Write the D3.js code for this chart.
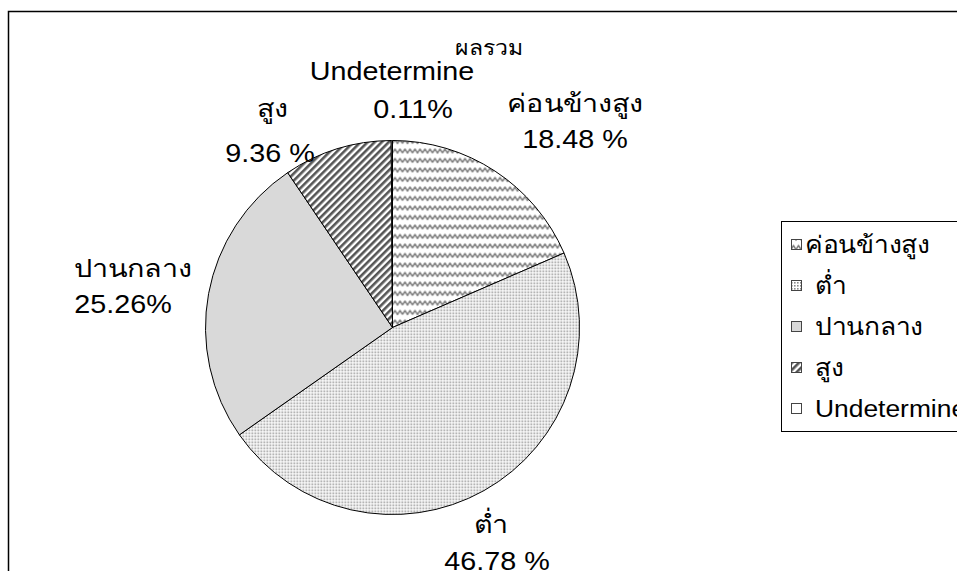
<!doctype html>
<html lang="th">
<head>
<meta charset="UTF-8">
<title>ผลรวม</title>
<script src="https://cdn.jsdelivr.net/npm/d3@7"></script>
<style>
  body { margin: 0; background: #fff; }
  svg text { font-family: "Liberation Sans", Arial, "Noto Sans", sans-serif; fill: #000; }
</style>
</head>
<body>
<div class="canvas"></div>
<script>
  // data
  const categories = ['ค่อนข้างสูง', 'ต่ำ', 'ปานกลาง', 'สูง', 'Undetermine'];
  const values = [18.48, 46.78, 25.26, 9.36, 0.11];
  const pctLabels = ['18.48 %', '46.78 %', '25.26%', '9.36 %', '0.11%'];
  const title = 'ผลรวม';

  const width = 957, height = 571;
  const svg = d3.select('.canvas').append('svg')
    .attr('width', width)
    .attr('height', height);

  // fill patterns
  const defs = svg.append('defs');
  const wave = defs.append('pattern').attr('id', 'p-wave')
    .attr('patternUnits', 'userSpaceOnUse').attr('width', 10).attr('height', 9.5);
  wave.append('rect').attr('width', 10).attr('height', 9.5).attr('fill', '#fff');
  wave.append('path')
    .attr('d', 'M0,6 L2.5,2 L5,6 L7.5,2 L10,6')
    .attr('fill', 'none').attr('stroke', '#7a7a7a').attr('stroke-width', 1.5)
    .attr('stroke-linejoin', 'round');

  const dots = defs.append('pattern').attr('id', 'p-dots')
    .attr('patternUnits', 'userSpaceOnUse').attr('width', 3).attr('height', 3);
  dots.append('rect').attr('width', 3).attr('height', 3).attr('fill', '#fff');
  dots.append('rect').attr('width', 1.6).attr('height', 1.6).attr('fill', '#8c8c8c');

  const stripes = defs.append('pattern').attr('id', 'p-stripes')
    .attr('patternUnits', 'userSpaceOnUse').attr('width', 5).attr('height', 5)
    .attr('patternTransform', 'rotate(45)');
  stripes.append('rect').attr('width', 5).attr('height', 5).attr('fill', '#fff');
  stripes.append('rect').attr('width', 2.6).attr('height', 5).attr('fill', '#555');

  const fills = ['url(#p-wave)', 'url(#p-dots)', '#d9d9d9', 'url(#p-stripes)', '#fff'];

  // outer frame (runs off right and bottom)
  svg.append('rect')
    .attr('x', 8.5).attr('y', 11.5)
    .attr('width', 1000).attr('height', 700)
    .attr('fill', 'none').attr('stroke', '#000').attr('stroke-width', 1.5);

  // pie
  const cx = 392.5, cy = 327.5, r = 187;
  const pie = d3.pie().sort(null).value(d => d)(values);
  const arc = d3.arc().innerRadius(0).outerRadius(r);

  const g = svg.append('g').attr('transform', `translate(${cx},${cy})`);
  g.selectAll('path')
    .data(pie)
    .join('path')
    .attr('d', arc)
    .attr('fill', (d, i) => fills[i])
    .attr('stroke', '#000')
    .attr('stroke-width', 1);

  // labels: name on first line, percentage on second
  // text in the original is a bit wider than normal, so stretch it
  const labelPos = [[575, 112], [491, 533], [133, 277], [272, 117], [392, 80]];
  const pctPos = [[575, 148], [497, 570], [123, 313], [270, 162], [413, 118]];

  svg.selectAll('text.name')
    .data(categories)
    .join('text')
    .attr('class', 'name')
    .attr('transform', (d, i) => `translate(${labelPos[i][0]},${labelPos[i][1]}) scale(1.15,1)`)
    .attr('text-anchor', 'middle')
    .style('font-size', '25px')
    .text(d => d);

  svg.selectAll('text.pct')
    .data(pctLabels)
    .join('text')
    .attr('class', 'pct')
    .attr('transform', (d, i) => `translate(${pctPos[i][0]},${pctPos[i][1]}) scale(1.15,1)`)
    .attr('text-anchor', 'middle')
    .style('font-size', '25px')
    .text(d => d);

  svg.append('text')
    .attr('transform', 'translate(489,55) scale(1.15,1)')
    .attr('text-anchor', 'middle')
    .style('font-size', '20px')
    .text(title);

  // legend
  svg.append('rect')
    .attr('x', 781.5).attr('y', 221.5)
    .attr('width', 200).attr('height', 210)
    .attr('fill', '#fff').attr('stroke', '#000').attr('stroke-width', 1);

  const y = d3.scalePoint().domain(categories).range([253, 417]);
  const leg = svg.selectAll('g.leg')
    .data(categories)
    .join('g')
    .attr('class', 'leg')
    .attr('transform', d => `translate(791, ${y(d)})`);
  leg.append('rect')
    .attr('x', 0.5).attr('y', -13.5)
    .attr('width', 10).attr('height', 10)
    .attr('fill', (d, i) => fills[i])
    .attr('stroke', '#444').attr('stroke-width', 1);
  leg.append('text')
    .attr('transform', (d, i) => `translate(${i === 0 ? 14 : 24},0) scale(1.1,1)`)
    .style('font-size', '24px')
    .text(d => d);
</script>
</body>
</html>
